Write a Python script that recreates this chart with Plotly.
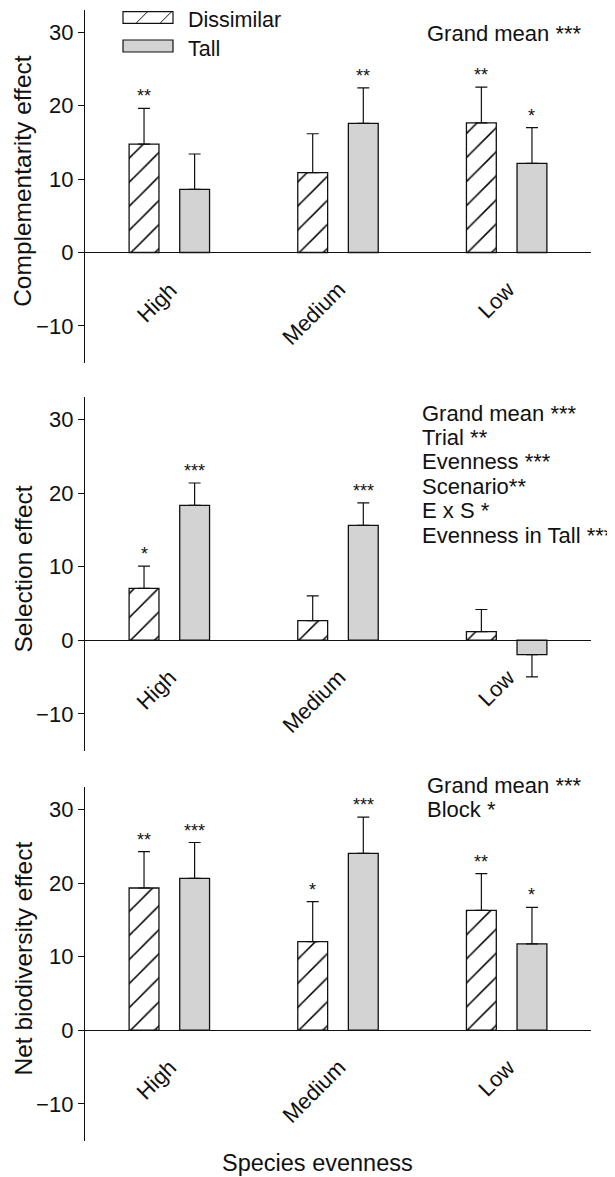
import plotly.graph_objects as go

# ---------------- data ----------------
categories = ["High", "Medium", "Low"]
series_names = ["Dissimilar", "Tall"]

comp_dissimilar = [14.75, 10.86, 17.65]
comp_dissimilar_se = [4.85, 5.30, 4.85]
comp_tall = [8.60, 17.56, 12.13]
comp_tall_se = [4.80, 4.85, 4.85]
comp_stars_dissimilar = ["**", "", "**"]
comp_stars_tall = ["", "**", "*"]

sel_dissimilar = [7.06, 2.67, 1.18]
sel_dissimilar_se = [3.00, 3.35, 3.00]
sel_tall = [18.33, 15.60, -1.95]
sel_tall_se = [3.03, 3.05, 3.03]
sel_stars_dissimilar = ["*", "", ""]
sel_stars_tall = ["***", "***", ""]

net_dissimilar = [19.32, 12.04, 16.29]
net_dissimilar_se = [4.93, 5.43, 4.98]
net_tall = [20.63, 24.03, 11.72]
net_tall_se = [4.87, 4.93, 4.98]
net_stars_dissimilar = ["**", "*", "**"]
net_stars_tall = ["***", "***", "*"]

panel_titles = ["Complementarity effect", "Selection effect", "Net biodiversity effect"]
panel_notes = [
    ["Grand mean ***"],
    ["Grand mean ***", "Trial **", "Evenness ***", "Scenario**", "E x S *", "Evenness in Tall ***"],
    ["Grand mean ***", "Block *"],
]
y_ticks = [-10, 0, 10, 20, 30]
y_range = [-15, 33]
x_title = "Species evenness"

# ---------------- layout helpers (page-pixel geometry) ----------------
PAGE_W, PAGE_H = 615, 1177
OFF = 8  # default body margin of the html page
W, H = PAGE_W - OFF, PAGE_H - OFF
FONT = "Liberation Sans, Arial, sans-serif"
GREY = "#d3d3d3"
INK = "#111111"

panel_px = [(10, 362.7), (397.3, 750.7), (787.3, 1140.7)]  # top, bottom (page px)
x_px = (85, 591)
note_px = [(425, [33.3]), (420, [413, 437.5, 461.5, 486, 510.5, 535]), (425, [785, 809.3])]


def px_x(p):
    return (p - OFF) / W


def px_y(p):
    return 1 - (p - OFF) / H


panels = [
    (comp_dissimilar, comp_dissimilar_se, comp_tall, comp_tall_se, comp_stars_dissimilar, comp_stars_tall),
    (sel_dissimilar, sel_dissimilar_se, sel_tall, sel_tall_se, sel_stars_dissimilar, sel_stars_tall),
    (net_dissimilar, net_dissimilar_se, net_tall, net_tall_se, net_stars_dissimilar, net_stars_tall),
]

fig = go.Figure()
annotations = []
shapes = []
bar_offset = 0.15

for k, (dv, de, tv, te, ds, ts) in enumerate(panels):
    n = "" if k == 0 else str(k + 1)
    xa, ya = "x" + n, "y" + n
    for name, vals, errs, stars, sign in [
        (series_names[0], dv, de, ds, -1),
        (series_names[1], tv, te, ts, 1),
    ]:
        if name == series_names[0]:
            marker = dict(
                color="white",
                line=dict(color=INK, width=1.3),
                pattern=dict(shape="/", size=17, solidity=0.09, fgcolor="black",
                             bgcolor="white", fgopacity=1),
            )
        else:
            marker = dict(color=GREY, line=dict(color=INK, width=1.3))
        up = [e if v >= 0 else 0 for v, e in zip(vals, errs)]
        down = [0 if v >= 0 else e for v, e in zip(vals, errs)]
        fig.add_trace(
            go.Bar(
                x=categories,
                y=vals,
                name=name,
                marker=marker,
                error_y=dict(type="data", symmetric=False, array=up, arrayminus=down,
                             color=INK, thickness=1.2, width=6),
                showlegend=False,
                xaxis=xa,
                yaxis=ya,
            )
        )
        for i, (v, e, s) in enumerate(zip(vals, errs, stars)):
            if s:
                annotations.append(dict(
                    x=i + sign * bar_offset, y=v + e, xref=xa, yref=ya, text=s,
                    showarrow=False, xanchor="center", yanchor="bottom", yshift=0,
                    font=dict(family=FONT, size=18, color=INK)))
    # category labels
    for i, c in enumerate(categories):
        annotations.append(dict(
            x=i, y=0, xref=xa, yref=ya, text=c, showarrow=False, textangle=-45,
            xanchor="right", yanchor="top", xshift=15, yshift=-22,
            font=dict(family=FONT, size=22, color=INK)))
    top, bot = panel_px[k]
    dom = [px_y(bot), px_y(top)]
    fig.layout["xaxis" + n] = dict(
        domain=[px_x(x_px[0]), px_x(x_px[1])], anchor=ya, type="category",
        range=[-0.5, 2.5], showticklabels=False, showline=False, ticks="",
        showgrid=False, zeroline=False, fixedrange=True)
    fig.layout["yaxis" + n] = dict(
        domain=dom, anchor=xa, range=y_range, tickvals=y_ticks,
        showline=True, linecolor=INK, linewidth=1.3, ticks="outside", ticklen=6,
        tickwidth=1.2, tickcolor=INK, showgrid=False, zeroline=True,
        zerolinecolor=INK, zerolinewidth=1.3,
        tickfont=dict(family=FONT, size=22, color=INK), automargin=False)
    # y title
    annotations.append(dict(
        x=px_x(22.5), y=px_y((top + bot) / 2 - 5), xref="paper", yref="paper",
        text=panel_titles[k], textangle=-90, showarrow=False,
        xanchor="center", yanchor="middle", font=dict(family=FONT, size=24.5, color=INK)))
    # notes
    nx, nys = note_px[k]
    for line, yy in zip(panel_notes[k], nys):
        annotations.append(dict(
            x=px_x(nx), y=px_y(yy), xref="paper", yref="paper", text=line,
            showarrow=False, xanchor="left", yanchor="middle",
            font=dict(family=FONT, size=22, color=INK)))

# x title
annotations.append(dict(
    x=px_x(317.5), y=px_y(1163), xref="paper", yref="paper", text=x_title,
    showarrow=False, xanchor="center", yanchor="middle",
    font=dict(family=FONT, size=23.5, color=INK)))

# legend (drawn manually, wide swatches as in reference)
leg_rows = [(11.7, 23.3), (40, 52)]
for j, name in enumerate(series_names):
    y0, y1 = leg_rows[j]
    shapes.append(dict(type="rect", xref="paper", yref="paper",
                       x0=px_x(123), x1=px_x(173), y0=px_y(y1), y1=px_y(y0),
                       line=dict(color=INK, width=1.2),
                       fillcolor="white" if j == 0 else GREY))
    if j == 0:
        for sx in (136, 160):
            shapes.append(dict(type="line", xref="paper", yref="paper",
                               x0=px_x(sx), y0=px_y(y1), x1=px_x(sx + 11.6), y1=px_y(y0),
                               line=dict(color=INK, width=1)))
    annotations.append(dict(
        x=px_x(186), y=px_y((y0 + y1) / 2 + 2.5), xref="paper", yref="paper", text=name,
        showarrow=False, xanchor="left", yanchor="middle",
        font=dict(family=FONT, size=21.5, color=INK)))

fig.update_layout(
    width=W, height=H, margin=dict(l=0, r=0, t=0, b=0),
    paper_bgcolor="white", plot_bgcolor="white",
    barmode="group", bargap=0.4, bargroupgap=0.41,
    annotations=annotations, shapes=shapes,
    font=dict(family=FONT, color=INK),
)

fig.write_html("out.html")
